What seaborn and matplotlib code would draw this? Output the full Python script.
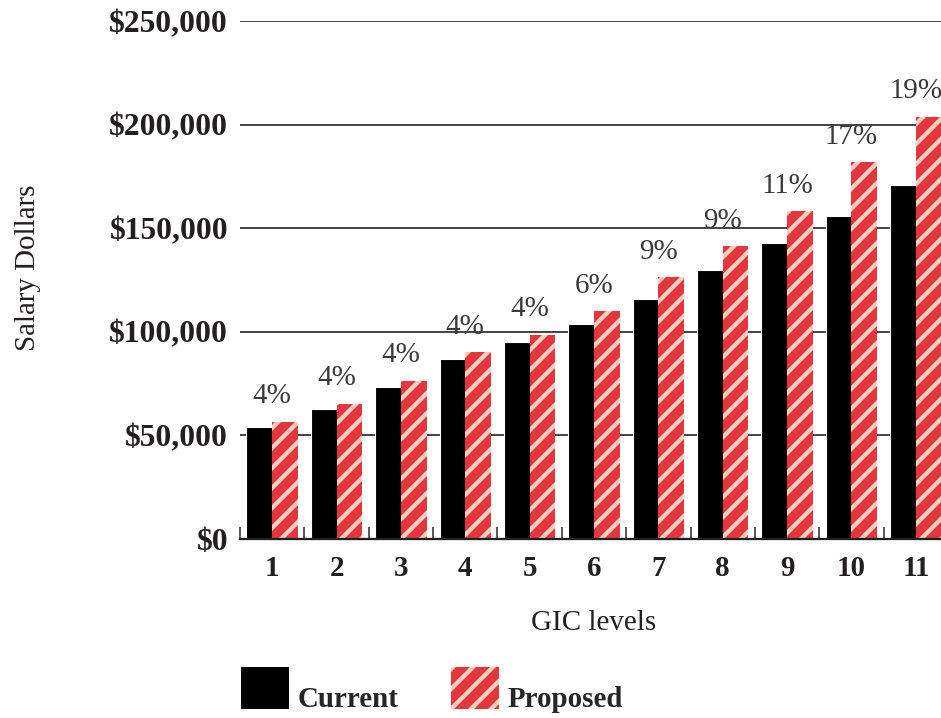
import matplotlib
matplotlib.use("Agg")
import matplotlib.pyplot as plt
import matplotlib.patches as mpatches
from matplotlib.legend_handler import HandlerPatch
from matplotlib.ticker import FixedLocator
import pandas as pd
import seaborn as sns

# GIC salary levels: current vs proposed pay
levels = ["1", "2", "3", "4", "5", "6", "7", "8", "9", "10", "11"]
current = [54200, 62700, 73500, 86900, 95100, 103900, 116000, 130000, 142700, 156000, 170700]
proposed = [56500, 65200, 76300, 90100, 98500, 110000, 126400, 141400, 158300, 181900, 203800]
increase_pct = [4, 4, 4, 4, 4, 6, 9, 9, 11, 17, 19]
series = ["Current", "Proposed"]
y_ticks = [0, 50000, 100000, 150000, 200000, 250000]
y_tick_labels = ["$0", "$50,000", "$100,000", "$150,000", "$200,000", "$250,000"]

RED = "#E3373F"
PINK = "#F7CFBE"
INK = "#231F20"

DPI = 120
W, H = 941, 718


def pt(px):
    """Convert a size in output pixels to points."""
    return px * 72.0 / DPI


sns.set_theme(style="white")
plt.rcParams["font.family"] = ["Liberation Serif", "DejaVu Serif"]
plt.rcParams["hatch.linewidth"] = pt(4.3)
plt.rcParams["hatch.color"] = PINK

df = pd.DataFrame({
    "level": levels * 2,
    "salary": current + proposed,
    "plan": [series[0]] * len(levels) + [series[1]] * len(levels),
})

fig = plt.figure(figsize=(W / DPI, H / DPI), dpi=DPI)
ax = fig.add_axes([240 / W, 179 / H, 708 / W, 518 / H])

sns.barplot(data=df, x="level", y="salary", hue="plan", order=levels,
            hue_order=series, palette={"Current": "black", "Proposed": RED},
            saturation=1, width=0.8, legend=False, ax=ax, zorder=3)

for bar in ax.containers[0]:
    bar.set_edgecolor("white")
    bar.set_linewidth(pt(1.1))
for bar in ax.containers[1]:
    bar.set_hatch("//")
    bar.set_edgecolor(PINK)
    bar.set_linewidth(0)
    if hasattr(bar, "set_hatch_linewidth"):
        bar.set_hatch_linewidth(pt(4.3))

FS = pt(29)

# percentage increase above each pair
for i, (val, pct) in enumerate(zip(proposed, increase_pct)):
    ax.annotate(f"{pct}%", xy=(i, val), xytext=(0, pt(12.5)), textcoords="offset points",
                ha="center", va="bottom", fontsize=FS, color="#3a3a3a")

ax.set_xlim(-0.5, len(levels) - 0.5)
ax.set_ylim(0, 250000)
ax.set_yticks(y_ticks)
ax.set_yticklabels(y_tick_labels, fontsize=pt(31.5), fontweight="bold", color=INK)
ax.set_xticks(range(len(levels)))
ax.set_xticklabels(levels, fontsize=FS, fontweight="bold", color=INK)
ax.xaxis.set_minor_locator(FixedLocator([k - 0.5 for k in range(len(levels) + 1)]))

ax.tick_params(axis="y", length=0, pad=pt(12))
ax.tick_params(axis="x", which="major", length=0, pad=pt(16.5))
ax.tick_params(axis="x", which="minor", direction="in", length=pt(12), width=pt(1.6),
               color="#333333", bottom=True)

ax.yaxis.grid(True, color="#1a1a1a", linewidth=pt(1.6), zorder=0)
ax.xaxis.grid(False)
ax.set_axisbelow(True)
for side in ["left", "right", "top"]:
    ax.spines[side].set_visible(False)
ax.spines["bottom"].set_color(INK)
ax.spines["bottom"].set_linewidth(pt(2.3))
ax.spines["bottom"].set_zorder(4)

ax.set_xlabel("GIC levels", fontsize=FS, color=INK, labelpad=pt(28))
ax.set_ylabel("Salary Dollars", fontsize=FS, color=INK)
ax.yaxis.set_label_coords((41 - 240) / 708, 0.523)

# legend swatches: 48x42 px, sitting just below the text baseline
hh = (40 / 29 - 0.49) / 0.3
descent = 0.35 * 29 * (hh - 0.7)
ypad = (descent - 2) / 29
handles = [
    mpatches.Patch(facecolor="black", edgecolor="black", linewidth=0, label=series[0]),
    mpatches.Patch(facecolor=RED, edgecolor=PINK, hatch="//", linewidth=0, label=series[1]),
]
leg = fig.legend(handles=handles, loc="lower left",
                 bbox_to_anchor=(241 / W, (H - 707 - descent) / H),
                 ncol=2, frameon=False, borderpad=0, borderaxespad=0,
                 handlelength=48 / 29, handleheight=hh, handletextpad=0.31,
                 columnspacing=1.80, prop={"size": FS, "weight": "bold"},
                 handler_map={mpatches.Patch: HandlerPatch(ypad=ypad)})
for patch in leg.get_patches():
    if hasattr(patch, "set_hatch_linewidth"):
        patch.set_hatch_linewidth(pt(4.3))

fig.savefig("out.png", dpi=DPI)
